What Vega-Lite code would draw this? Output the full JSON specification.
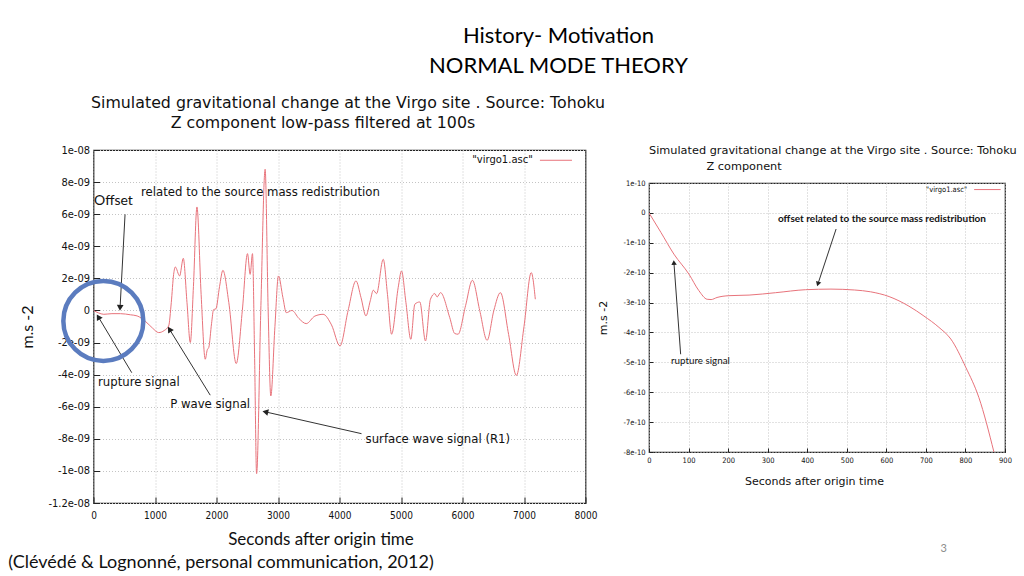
{
  "$schema": "https://vega.github.io/schema/vega-lite/v6.json",
  "background": "white",
  "padding": {"left": 7.5, "top": 24, "right": 0, "bottom": 0},
  "title": {
    "text": ["History- Motivation", "NORMAL MODE THEORY"],
    "font": "Lato", "fontSize": 22, "fontWeight": "normal", "lineHeight": 30,
    "color": "#000", "anchor": "middle", "dx": 46, "offset": 17
  },
  "spacing": -10.5,
  "config": {
    "view": {"stroke": "#222", "strokeWidth": 1.2},
    "axis": {
      "domain": false, "grid": true, "gridColor": "#c4c4c4", "gridDash": [1, 2], "gridWidth": 1,
      "ticks": true, "tickColor": "#222", "labelColor": "#111", "titleColor": "#111", "labelFlush": false,
      "labelFont": "DejaVu Sans Condensed", "titleFontWeight": "normal"
    }
  },
  "hconcat": [
    {
      "width": 492, "height": 353,
      "title": {
        "text": ["\u200b\u00a0\u00a0\u00a0Simulated gravitational change at the Virgo site . Source: Tohoku", "Z component low-pass  filtered at 100s\u00a0\u00a0\u00a0\u00a0\u00a0\u00a0\u00a0\u200b"],
        "font": "DejaVu Sans", "fontSize": 15.8, "fontWeight": "normal", "lineHeight": 20,
        "color": "#111", "anchor": "middle", "frame": "group", "dx": 1, "offset": 12
      },
      "encoding": {
        "x": {
          "field": "t", "type": "quantitative",
          "scale": {"domain": [0, 8000], "nice": false, "zero": false},
          "axis": {
            "values": [0, 1000, 2000, 3000, 4000, 5000, 6000, 7000, 8000], "format": "d",
            "title": "Seconds after origin time", "titleFont": "Lato", "titleFontSize": 17,
            "titlePadding": 11, "titleX": 227, "labelFontSize": 10, "tickSize": -6, "labelPadding": 13
          }
        },
        "y": {
          "field": "v", "type": "quantitative",
          "scale": {"domain": [-1.2e-8, 1e-8], "nice": false, "zero": false},
          "axis": {
            "values": [-1.2e-8, -1e-8, -8e-9, -6e-9, -4e-9, -2e-9, 0, 2e-9, 4e-9, 6e-9, 8e-9, 1e-8],
            "labelExpr": "datum.value == 0 ? '0' : replace(replace(format(datum.value, '.2~e'), '\u2212', '-'), regexp('e-([0-9])$'), 'e-0$1')",
            "title": "m.s -2", "titleFont": "Lato", "titleFontSize": 16, "titlePadding": 12,
            "labelFontSize": 11, "tickSize": -6, "labelPadding": 10
          }
        }
      },
      "layer": [
        {
          "data": {"values": [
            {"t": 0, "v": 0}, {"t": 80, "v": -1.5e-10}, {"t": 167, "v": -2.4e-10}, {"t": 300, "v": -2.0e-10},
            {"t": 438, "v": -2.0e-10}, {"t": 600, "v": -2.7e-10}, {"t": 709, "v": -3.4e-10}, {"t": 850, "v": -7e-10},
            {"t": 960, "v": -1.1e-9}, {"t": 1060, "v": -1.38e-9}, {"t": 1150, "v": -1.25e-9}, {"t": 1222, "v": -9.7e-10},
            {"t": 1265, "v": 5e-10}, {"t": 1303, "v": 2.25e-9}, {"t": 1330, "v": 2.71e-9}, {"t": 1400, "v": 2.15e-9},
            {"t": 1460, "v": 3.25e-9}, {"t": 1520, "v": 5e-10}, {"t": 1574, "v": -2.0e-9}, {"t": 1625, "v": 1.5e-9},
            {"t": 1682, "v": 6.45e-9}, {"t": 1750, "v": 1.0e-9}, {"t": 1817, "v": -3.04e-9}, {"t": 1850, "v": -2.45e-9},
            {"t": 1875, "v": -2.3e-9}, {"t": 1920, "v": -8e-10}, {"t": 1952, "v": 5e-11}, {"t": 1990, "v": 1e-10},
            {"t": 2050, "v": 1.5e-9}, {"t": 2104, "v": 2.5e-9}, {"t": 2200, "v": 5e-10}, {"t": 2321, "v": -3.31e-9},
            {"t": 2420, "v": 0}, {"t": 2504, "v": 3.54e-9}, {"t": 2547, "v": 2.25e-9}, {"t": 2585, "v": 3.54e-9},
            {"t": 2620, "v": -3e-9}, {"t": 2652, "v": -1.017e-8}, {"t": 2720, "v": 0}, {"t": 2791, "v": 8.8e-9},
            {"t": 2840, "v": 0}, {"t": 2883, "v": -5.33e-9}, {"t": 2950, "v": -1e-9}, {"t": 3007, "v": 2.15e-9},
            {"t": 3080, "v": 8e-10}, {"t": 3135, "v": -1.4e-10}, {"t": 3227, "v": 0}, {"t": 3340, "v": -5e-10},
            {"t": 3459, "v": -8.2e-10}, {"t": 3600, "v": -3.5e-10}, {"t": 3733, "v": -2.4e-10}, {"t": 3870, "v": -9e-10},
            {"t": 4008, "v": -2.21e-9}, {"t": 4140, "v": 0}, {"t": 4268, "v": 1.84e-9}, {"t": 4350, "v": 8e-10},
            {"t": 4430, "v": -3.4e-10}, {"t": 4500, "v": 6e-10}, {"t": 4549, "v": 1.26e-9}, {"t": 4603, "v": 1.05e-9},
            {"t": 4711, "v": 3.19e-9}, {"t": 4780, "v": 1e-9}, {"t": 4847, "v": -1.48e-9}, {"t": 4954, "v": 1.42e-9},
            {"t": 5008, "v": 2.46e-9}, {"t": 5080, "v": 5e-10}, {"t": 5160, "v": -1.8e-9}, {"t": 5225, "v": 3.9e-10},
            {"t": 5306, "v": 5.3e-10}, {"t": 5398, "v": -1.9e-9}, {"t": 5479, "v": 7e-10}, {"t": 5550, "v": 1.05e-9},
            {"t": 5587, "v": 8.4e-10}, {"t": 5642, "v": 1.11e-9}, {"t": 5793, "v": -4.5e-10}, {"t": 5874, "v": -1.44e-9},
            {"t": 5928, "v": -1.48e-9}, {"t": 6050, "v": 3e-10}, {"t": 6161, "v": 1.88e-9}, {"t": 6280, "v": 0},
            {"t": 6400, "v": -1.86e-9}, {"t": 6510, "v": 0}, {"t": 6616, "v": 1.11e-9}, {"t": 6750, "v": -1.5e-9},
            {"t": 6876, "v": -4.05e-9}, {"t": 7000, "v": -1e-9}, {"t": 7118, "v": 2.36e-9}, {"t": 7184, "v": 7e-10}
          ]},
          "mark": {"type": "line", "color": "#e8737b", "strokeWidth": 1, "interpolate": "monotone", "clip": true}
        },
        {
          "data": {"values": [{"t": 7259, "t2": 7780, "v": 9.36e-9, "v2": 9.36e-9}]},
          "mark": {"type": "rule", "color": "#e8737b", "strokeWidth": 1},
          "encoding": {"x2": {"field": "t2"}, "y2": {"field": "v2"}}
        },
        {
          "data": {"values": [{"t": 7144, "v": 9.36e-9, "label": "\"virgo1.asc\""}]},
          "mark": {"type": "text", "align": "right", "baseline": "middle", "font": "DejaVu Sans", "fontSize": 10, "color": "#111"},
          "encoding": {"text": {"field": "label"}}
        },
        {
          "data": {"values": [
            {"t": 774, "v": 7.38e-9, "label": "related to the source mass redistribution"},
            {"t": 73, "v": -4.45e-9, "label": "rupture signal"},
            {"t": 1246, "v": -5.83e-9, "label": "P wave signal"},
            {"t": 4424, "v": -8.0e-9, "label": "surface wave signal (R1)"}
          ]},
          "mark": {"type": "text", "align": "left", "baseline": "middle", "font": "DejaVu Sans Condensed", "fontSize": 13, "color": "#111"},
          "encoding": {"text": {"field": "label"}}
        },
        {
          "data": {"values": [{"t": 8, "v": 6.82e-9, "label": "Offset"}]},
          "mark": {"type": "text", "align": "left", "baseline": "middle", "font": "Lato", "fontSize": 14, "color": "#111"},
          "encoding": {"text": {"field": "label"}}
        },
        {
          "data": {"values": [{"t": -1385, "v": -1.573e-8, "label": "(Clévédé & Lognonné, personal communication, 2012)"}]},
          "mark": {"type": "text", "align": "left", "baseline": "middle", "font": "Lato", "fontSize": 18, "color": "#111"},
          "encoding": {"text": {"field": "label"}}
        },
        {
          "data": {"values": [
            {"t": 513, "v": 5.99e-9, "t2": 432, "v2": 1.7e-10},
            {"t": 622, "v": -3.88e-9, "t2": 78, "v2": -4.0e-10},
            {"t": 1898, "v": -5.28e-9, "t2": 1235, "v2": -1.17e-9},
            {"t": 4358, "v": -7.68e-9, "t2": 2794, "v2": -6.32e-9}
          ]},
          "mark": {"type": "rule", "color": "#333", "strokeWidth": 1},
          "encoding": {"x2": {"field": "t2"}, "y2": {"field": "v2"}}
        },
        {
          "data": {"values": [{"t": 432, "v": 1.7e-10}]},
          "mark": {"type": "point", "shape": "triangle-up", "angle": 183, "size": 45, "filled": true, "color": "#222", "opacity": 1}
        },
        {
          "data": {"values": [{"t": 78, "v": -4.0e-10}]},
          "mark": {"type": "point", "shape": "triangle-up", "angle": 329, "size": 45, "filled": true, "color": "#222", "opacity": 1}
        },
        {
          "data": {"values": [{"t": 1235, "v": -1.17e-9}]},
          "mark": {"type": "point", "shape": "triangle-up", "angle": 328, "size": 45, "filled": true, "color": "#222", "opacity": 1}
        },
        {
          "data": {"values": [{"t": 2794, "v": -6.32e-9}]},
          "mark": {"type": "point", "shape": "triangle-up", "angle": 283, "size": 45, "filled": true, "color": "#222", "opacity": 1}
        },
        {
          "data": {"values": [{"t": 160, "v": -6.5e-10}]},
          "mark": {"type": "point", "shape": "circle", "size": 6400, "filled": false, "stroke": "#5b7cbf", "strokeWidth": 4.5, "opacity": 1}
        }
      ]
    },
    {
      "spacing": -7,
      "vconcat": [
        {
          "width": 10, "height": 1,
          "view": {"stroke": null},
          "data": {"values": []},
          "mark": "point"
        },
        {
          "width": 356, "height": 269,
          "title": {
            "text": ["Simulated gravitational change at the Virgo site . Source: Tohoku", "\u200b\u00a0\u00a0\u00a0\u00a0\u00a0\u00a0\u00a0\u00a0\u00a0\u00a0\u00a0\u00a0\u00a0\u00a0\u00a0\u00a0Z component"],
            "font": "DejaVu Sans", "fontSize": 11.3, "fontWeight": "normal", "lineHeight": 16,
            "color": "#111", "anchor": "start", "frame": "group", "offset": 7
          },
          "encoding": {
            "x": {
              "field": "t", "type": "quantitative",
              "scale": {"domain": [0, 900], "nice": false, "zero": false},
              "axis": {
                "values": [0, 100, 200, 300, 400, 500, 600, 700, 800, 900],
                "title": "Seconds after origin time", "titleFont": "DejaVu Sans", "titleFontSize": 11,
                "titlePadding": 12, "titleX": 165, "labelFontSize": 7.5, "tickSize": -4, "labelPadding": 8
              }
            },
            "y": {
              "field": "v", "type": "quantitative",
              "scale": {"domain": [-8e-10, 1e-10], "nice": false, "zero": false},
              "axis": {
                "values": [-8e-10, -7e-10, -6e-10, -5e-10, -4e-10, -3e-10, -2e-10, -1e-10, 0, 1e-10],
                "labelExpr": "datum.value == 0 ? '0' : replace(replace(format(datum.value, '.2~e'), '\u2212', '-'), regexp('e-([0-9])$'), 'e-0$1')",
                "title": "m.s -2", "titleFont": "DejaVu Sans", "titleFontSize": 11, "titlePadding": 15,
                "labelFontSize": 7.5, "tickSize": -4, "labelPadding": 8
              }
            }
          },
          "layer": [
            {
              "data": {"values": [
                {"t": 0, "v": 0}, {"t": 30, "v": -6.5e-11}, {"t": 63, "v": -1.38e-10}, {"t": 101, "v": -2.05e-10},
                {"t": 126, "v": -2.6e-10}, {"t": 147, "v": -2.89e-10}, {"t": 157, "v": -2.9e-10}, {"t": 172, "v": -2.83e-10},
                {"t": 202, "v": -2.77e-10}, {"t": 253, "v": -2.75e-10}, {"t": 320, "v": -2.67e-10}, {"t": 396, "v": -2.57e-10},
                {"t": 460, "v": -2.55e-10}, {"t": 520, "v": -2.58e-10}, {"t": 560, "v": -2.64e-10}, {"t": 607, "v": -2.8e-10},
                {"t": 657, "v": -3.12e-10}, {"t": 695, "v": -3.45e-10}, {"t": 733, "v": -3.83e-10}, {"t": 763, "v": -4.22e-10},
                {"t": 801, "v": -5.17e-10}, {"t": 834, "v": -6.18e-10}, {"t": 872, "v": -8.0e-10}
              ]},
              "mark": {"type": "line", "color": "#e8737b", "strokeWidth": 1, "interpolate": "monotone", "clip": true}
            },
            {
              "data": {"values": [{"t": 822, "t2": 889, "v": 7.8e-11, "v2": 7.8e-11}]},
              "mark": {"type": "rule", "color": "#e8737b", "strokeWidth": 1},
              "encoding": {"x2": {"field": "t2"}, "y2": {"field": "v2"}}
            },
            {
              "data": {"values": [{"t": 804, "v": 7.8e-11, "label": "\"virgo1.asc\""}]},
              "mark": {"type": "text", "align": "right", "baseline": "middle", "font": "DejaVu Sans Condensed", "fontSize": 7.5, "color": "#111"},
              "encoding": {"text": {"field": "label"}}
            },
            {
              "data": {"values": [{"t": 589, "v": -1.9e-11, "label": "offset related to the source mass redistribution"}]},
              "mark": {"type": "text", "align": "center", "baseline": "middle", "font": "Lato", "fontSize": 10, "fontWeight": "bold", "color": "#111"},
              "encoding": {"text": {"field": "label"}}
            },
            {
              "data": {"values": [{"t": 130, "v": -4.95e-10, "label": "rupture signal"}]},
              "mark": {"type": "text", "align": "center", "baseline": "middle", "font": "Lato", "fontSize": 9.8, "color": "#111"},
              "encoding": {"text": {"field": "label"}}
            },
            {
              "data": {"values": [{"t": 745, "v": -1.125e-9, "label": "3"}]},
              "mark": {"type": "text", "align": "center", "baseline": "middle", "font": "Lato", "fontSize": 11, "color": "#8c8c8c"},
              "encoding": {"text": {"field": "label"}}
            },
            {
              "data": {"values": [
                {"t": 473, "v": -5.4e-11, "t2": 427, "v2": -2.38e-10},
                {"t": 80, "v": -4.73e-10, "t2": 63, "v2": -1.66e-10}
              ]},
              "mark": {"type": "rule", "color": "#333", "strokeWidth": 1},
              "encoding": {"x2": {"field": "t2"}, "y2": {"field": "v2"}}
            },
            {
              "data": {"values": [{"t": 427, "v": -2.38e-10}]},
              "mark": {"type": "point", "shape": "triangle-up", "angle": 198, "size": 30, "filled": true, "color": "#222", "opacity": 1}
            },
            {
              "data": {"values": [{"t": 63, "v": -1.66e-10}]},
              "mark": {"type": "point", "shape": "triangle-up", "angle": 356, "size": 30, "filled": true, "color": "#222", "opacity": 1}
            }
          ]
        }
      ]
    }
  ]
}
